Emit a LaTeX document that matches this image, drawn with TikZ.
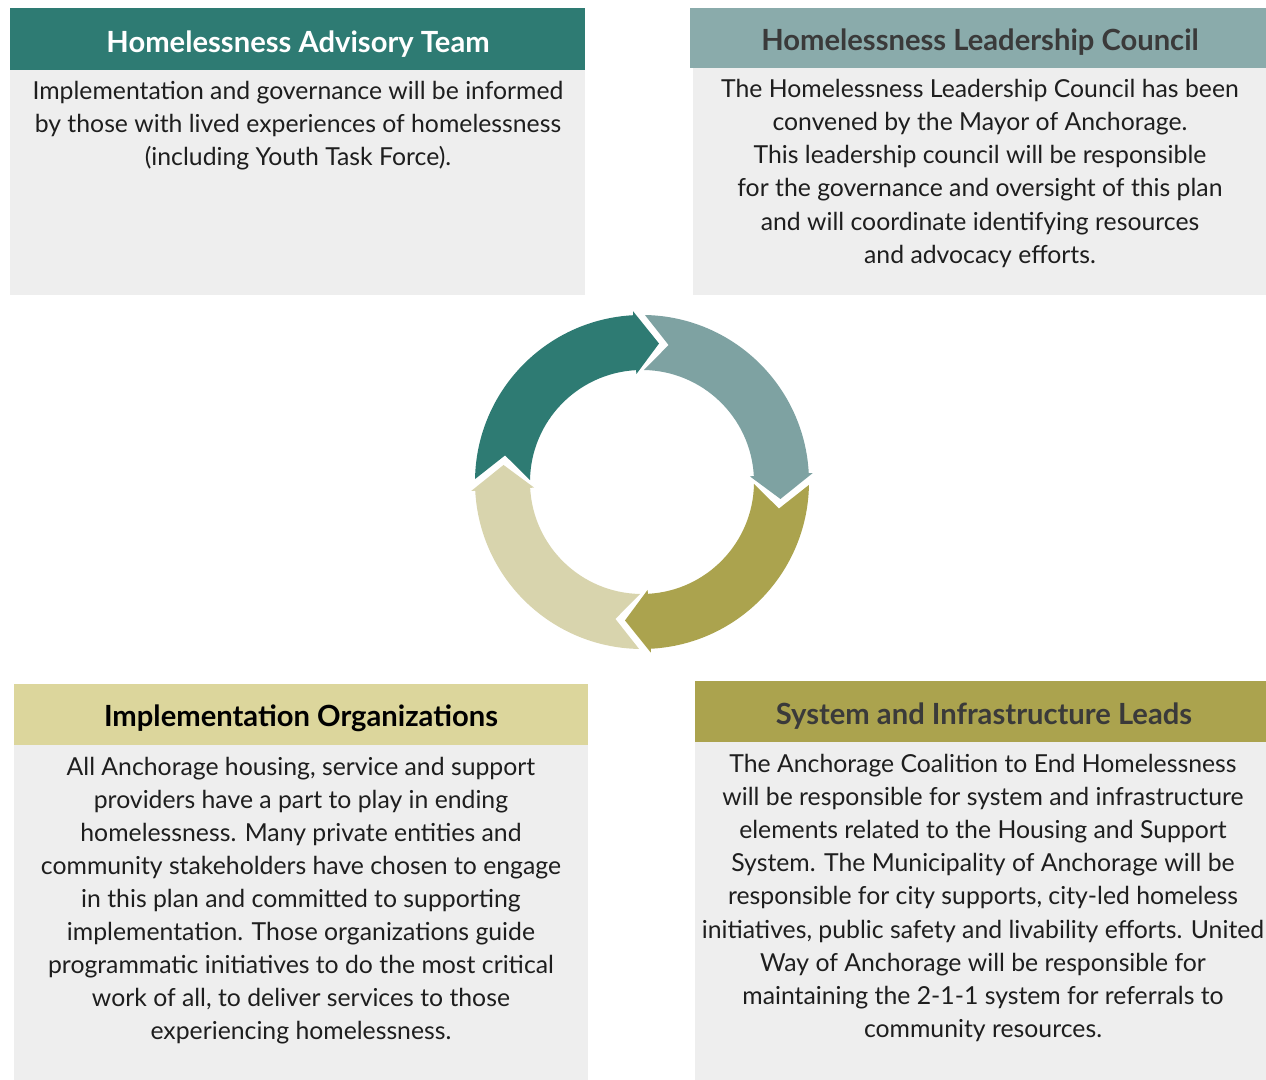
\documentclass[tikz,border=0pt]{standalone}
\usepackage{fontspec}
\setmainfont{Lato}
\usepackage{xcolor}
\usepackage{tikz}
\definecolor{HPTeal}{HTML}{2E7B73}
\definecolor{HPSlate}{HTML}{8AABAB}
\definecolor{HPSlateRing}{HTML}{7EA2A2}
\definecolor{HPOlive}{HTML}{ABA34E}
\definecolor{HPSand}{HTML}{DCD69C}
\definecolor{HPSandRing}{HTML}{D8D4AD}
\definecolor{HPPanel}{HTML}{EEEEEE}
\definecolor{HPInk}{HTML}{1E1E1E}
\definecolor{HPHeadInk}{HTML}{3A3A3A}
\tikzset{
  headtext/.style={font=\fontsize{8.3}{9.4}\selectfont\bfseries,anchor=center},
  bodytext/.style={font=\fontsize{7.05}{9.4}\selectfont,align=center,text=HPInk,anchor=center,inner sep=0pt}
}

\begin{document}
\begin{tikzpicture}[x=1cm,y=1cm]
\path[use as bounding box] (0,0) rectangle (12.66,10.80);
\fill[HPPanel] (0.10,10.10) rectangle (5.85,7.85);
\fill[HPTeal] (0.10,10.72) rectangle (5.85,10.10);
\node[headtext,text=white] (advhead) at (2.98,10.36) {Homelessness Advisory Team};
\node[bodytext] (advbody) at (2.98,9.54) {Implementation and governance will be informed\\by those with lived experiences of homelessness\\(including Youth Task Force).};
\fill[HPPanel] (6.93,10.12) rectangle (12.66,7.85);
\fill[HPSlate] (6.90,10.72) rectangle (12.66,10.12);
\node[headtext,text=HPHeadInk] (leadhead) at (9.80,10.38) {Homelessness Leadership Council};
\node[bodytext] (leadbody) at (9.80,9.065) {The Homelessness Leadership Council has been\\convened by the Mayor of Anchorage.\\This leadership council will be responsible\\for the governance and oversight of this plan\\and will coordinate identifying resources\\and advocacy efforts.};
\fill[HPPanel] (0.14,3.35) rectangle (5.88,0);
\fill[HPSand] (0.14,3.96) rectangle (5.88,3.35);
\node[headtext,text=black] (orghead) at (3.01,3.62) {Implementation Organizations};
\node[bodytext] (orgbody) at (3.01,1.795) {All Anchorage housing, service and support\\providers have a part to play in ending\\homelessness. Many private entities and\\community stakeholders have chosen to engage\\in this plan and committed to supporting\\implementation. Those organizations guide\\programmatic initiatives to do the most critical\\work of all, to deliver services to those\\experiencing homelessness.};
\fill[HPPanel] (6.95,3.38) rectangle (12.66,0);
\fill[HPOlive] (6.95,3.99) rectangle (12.66,3.38);
\node[headtext,text=HPHeadInk] (syshead) at (9.84,3.64) {System and Infrastructure Leads};
\node[bodytext] (sysbody) at (9.83,1.82) {The Anchorage Coalition to End Homelessness\\will be responsible for system and infrastructure\\elements related to the Housing and Support\\System. The Municipality of Anchorage will be\\responsible for city supports, city-led homeless\\initiatives, public safety and livability efforts. United\\Way of Anchorage will be responsible for\\maintaining the 2-1-1 system for referrals to\\community resources.};
\begin{scope}[shift={(6.42,5.98)}]
\foreach \t/\c in {83/HPTeal,-7/HPSlateRing,-97/HPOlive,173/HPSandRing}{
  \fill[\c] ({\t+96}:1.67) arc[start angle=\t+96,end angle=\t+10,radius=1.67] -- ({\t+10}:1.71) -- (\t:1.395) -- ({\t+10}:1.08) -- ({\t+10}:1.12) arc[start angle=\t+10,end angle=\t+96,radius=1.12] -- ({\t+86}:1.395) -- cycle;
}
\end{scope}
\end{tikzpicture}
\end{document}
